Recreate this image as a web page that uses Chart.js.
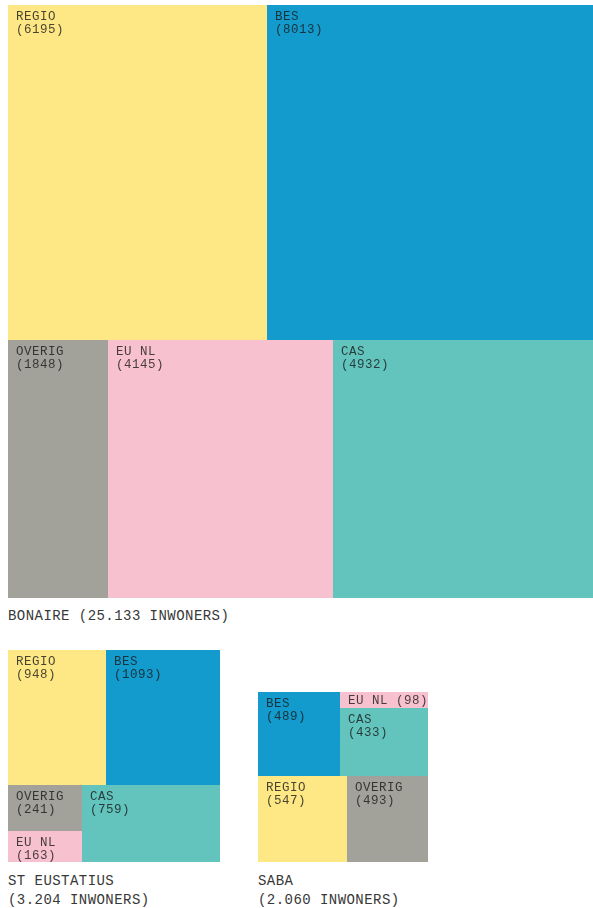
<!DOCTYPE html>
<html>
<head>
<meta charset="utf-8">
<script src="https://cdn.jsdelivr.net/npm/chart.js@4.4.0/dist/chart.umd.min.js"></script>
<style>
  html, body { margin: 0; padding: 0; background: #fff; width: 593px; height: 908px; overflow: hidden; }
  .box { position: absolute; overflow: hidden; }
  .caption {
    position: absolute;
    font-family: "Liberation Mono", monospace;
    font-size: 14px;
    letter-spacing: 0.45px;
    line-height: 19px;
    color: #383838;
    white-space: nowrap;
  }
</style>
</head>
<body>

<div class="box" style="left:8px; top:5px; width:585px;"><canvas id="bonaireChart"></canvas></div>
<div class="caption" style="left:8px; top:607px;">BONAIRE (25.133 INWONERS)</div>

<div class="box" id="stEustatiusBox" style="left:8px;"><canvas id="stEustatiusChart"></canvas></div>
<div class="caption" style="left:8px; top:872px;">ST EUSTATIUS<br>(3.204 INWONERS)</div>

<div class="box" id="sabaBox" style="left:258px;"><canvas id="sabaChart"></canvas></div>
<div class="caption" style="left:258px; top:872px;">SABA<br>(2.060 INWONERS)</div>

<script>
// ======================================================
// DATA
// ======================================================

const categories = ["REGIO", "BES", "OVERIG", "EU NL", "CAS"];
const categoryColors = ["#fee886", "#129bcc", "#a2a29a", "#f8c1d0", "#62c4bd"];

const bonaireValues = [6195, 8013, 1848, 4145, 4932];
const stEustatiusValues = [948, 1093, 241, 163, 759];
const sabaValues = [547, 489, 493, 98, 433];

// nesting of category indexes: first level = rows, next = columns, then rows again
const bonaireTree = [[0, 1], [2, 3, 4]];
const stEustatiusTree = [[0, 1], [[2, 3], 4]];
const sabaTree = [[1, [3, 4]], [0, 2]];

// ======================================================
// LAYOUT
// ======================================================

const BONAIRE_SIDE = 593;      // pixels for the biggest square
const BOTTOM_LINE = 862;       // small treemaps share their bottom edge

function nodeSum(node, values) {
  if (!Array.isArray(node)) return values[node];
  return node.reduce((sum, child) => sum + nodeSum(child, values), 0);
}

function layout(node, values, x, y, w, h, vertical, out) {
  if (!Array.isArray(node)) {
    out.push({ x, y, w, h, index: node });
    return out;
  }
  const total = nodeSum(node, values);
  let offset = 0;
  node.forEach((child) => {
    const part = nodeSum(child, values) / total;
    if (vertical) {
      layout(child, values, x, y + offset, w, h * part, false, out);
      offset += h * part;
    } else {
      layout(child, values, x + offset, y, w * part, h, true, out);
      offset += w * part;
    }
  });
  return out;
}

const pxPerUnit = BONAIRE_SIDE / Math.sqrt(bonaireValues.reduce((a, b) => a + b, 0));

// ======================================================
// TREEMAP PLUGIN
// ======================================================

const treemapPlugin = {
  id: "treemapRects",
  beforeDatasetsDraw(chart) {
    const { ctx, scales } = chart;
    const rects = chart.options.plugins.treemapRects.rects;
    const values = chart.options.plugins.treemapRects.values;

    rects.forEach((r) => {
      const left = Math.round(scales.x.getPixelForValue(r.x));
      const right = Math.round(scales.x.getPixelForValue(r.x + r.w));
      const top = Math.round(scales.y.getPixelForValue(r.y));
      const bottom = Math.round(scales.y.getPixelForValue(r.y + r.h));

      ctx.save();
      ctx.fillStyle = categoryColors[r.index];
      ctx.fillRect(left, top, right - left, bottom - top);

      ctx.fillStyle = "rgba(25,25,25,0.8)";
      ctx.font = "12.5px 'Liberation Mono', monospace";
      ctx.letterSpacing = "0.5px";
      ctx.textBaseline = "alphabetic";

      const name = categories[r.index];
      const value = `(${values[r.index]})`;
      if (bottom - top < 28) {
        ctx.fillText(`${name} ${value}`, left + 8, top + 12);
      } else {
        ctx.fillText(name, left + 8, top + 15);
        ctx.fillText(value, left + 8, top + 28);
      }
      ctx.restore();
    });
  },
};

function makeTreemap(canvasId, values, tree) {
  const side = Math.sqrt(values.reduce((a, b) => a + b, 0));
  const sizePx = Math.round(side * pxPerUnit);
  const rects = layout(tree, values, 0, 0, side, side, true, []);

  const canvas = document.getElementById(canvasId);
  canvas.width = sizePx;
  canvas.height = sizePx;

  return new Chart(canvas.getContext("2d"), {
    type: "scatter",
    data: {
      datasets: [
        {
          data: rects.map((r) => ({ x: r.x + r.w / 2, y: r.y + r.h / 2 })),
          pointRadius: 0,
        },
      ],
    },
    options: {
      responsive: false,
      animation: false,
      layout: { padding: 0 },
      plugins: {
        legend: { display: false },
        tooltip: { enabled: false },
        treemapRects: { rects, values },
      },
      scales: {
        x: { type: "linear", min: 0, max: side, display: false },
        y: { type: "linear", min: 0, max: side, reverse: true, display: false },
      },
    },
    plugins: [treemapPlugin],
  });
}

// ======================================================
// INITIALIZATION
// ======================================================

makeTreemap("bonaireChart", bonaireValues, bonaireTree);
const stEustatiusChart = makeTreemap("stEustatiusChart", stEustatiusValues, stEustatiusTree);
const sabaChart = makeTreemap("sabaChart", sabaValues, sabaTree);

document.getElementById("stEustatiusBox").style.top = `${BOTTOM_LINE - stEustatiusChart.height}px`;
document.getElementById("sabaBox").style.top = `${BOTTOM_LINE - sabaChart.height}px`;
</script>
</body>
</html>
